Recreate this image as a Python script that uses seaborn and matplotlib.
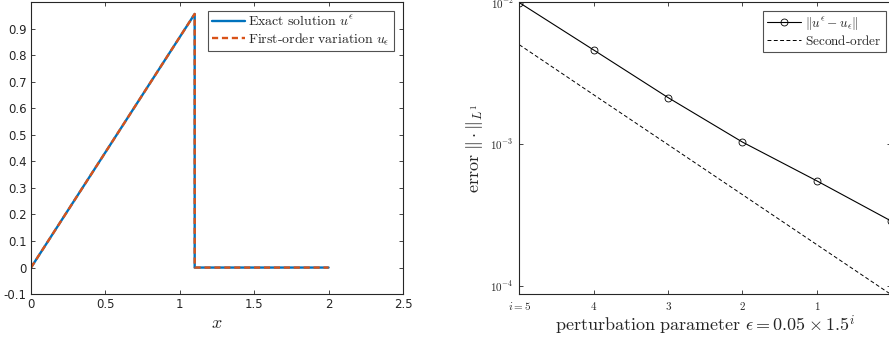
import numpy as np
import pandas as pd
import matplotlib
matplotlib.use("Agg")
import matplotlib.pyplot as plt
import seaborn as sns

# --- Datos: panel izquierdo (solución y variación de primer orden) ---
x_sol = [0.0, 1.1, 1.1, 2.0]
u_exact = [0.0, 0.955, 0.0, 0.0]
u_first = [0.0, 0.955, 0.0, 0.0]

# --- Datos: panel derecho (error vs. parámetro de perturbación) ---
i_vals = [5, 4, 3, 2, 1, 0]
err_l1 = [9.9e-3, 4.59e-3, 2.12e-3, 1.03e-3, 5.49e-4, 2.86e-4]
second_order = [5.0e-3, 2.22e-3, 9.88e-4, 4.39e-4, 1.95e-4, 8.67e-5]

left_xticks = [0, 0.5, 1, 1.5, 2, 2.5]
left_yticks = [-0.1, 0, 0.1, 0.2, 0.3, 0.4, 0.5, 0.6, 0.7, 0.8, 0.9]
right_xticks = [5, 4, 3, 2, 1, 0]
right_xlabels = [r"$i=5$", "$4$", "$3$", "$2$", "$1$", ""]

BLUE = "#0072BD"
ORANGE = "#D95319"
AX_COL = "#262626"

sns.set_style("ticks")
plt.rcParams["mathtext.fontset"] = "cm"
plt.rcParams["font.family"] = ["DejaVu Sans"]
plt.rcParams["axes.edgecolor"] = AX_COL
plt.rcParams["xtick.color"] = AX_COL
plt.rcParams["ytick.color"] = AX_COL

fig = plt.figure(figsize=(8.89, 3.41), dpi=100)
ax1 = fig.add_axes([0.0349, 0.1375, 0.4184, 0.8567])
ax2 = fig.add_axes([0.5841, 0.1375, 0.4185, 0.8567])

# --- Panel izquierdo ---
sns.lineplot(x=x_sol, y=u_exact, ax=ax1, color=BLUE, lw=1.7, sort=False,
             estimator=None, label=r"$\mathrm{Exact\ solution}\ u^\epsilon$")
sns.lineplot(x=x_sol, y=u_first, ax=ax1, color=ORANGE, lw=1.7, sort=False,
             estimator=None, linestyle=(0, (2.6, 1.6)),
             label=r"$\mathrm{First\text{-}order\ variation}\ u_\epsilon$")
ax1.set_xlim(0, 2.5)
ax1.set_ylim(-0.1, 1.0)
ax1.set_xticks(left_xticks)
ax1.set_xticklabels([f"{t:g}" for t in left_xticks])
ax1.set_yticks(left_yticks)
ax1.set_yticklabels([f"{t:g}" for t in left_yticks])
ax1.set_xlabel("$x$", fontsize=13, labelpad=2)
ax1.set_ylabel("")
ax1.tick_params(direction="in", top=True, right=True, labelsize=8.5,
                length=3, width=0.6, pad=3)
for s in ax1.spines.values():
    s.set_linewidth(0.8)
leg1 = ax1.legend(loc="upper right", bbox_to_anchor=(0.975, 0.97),
                  fontsize=10, frameon=True, fancybox=False, handlelength=2.4,
                  handletextpad=0.2, borderpad=0.3, labelspacing=0.15,
                  borderaxespad=0)
leg1.get_frame().set_edgecolor(AX_COL)
leg1.get_frame().set_linewidth(0.8)

# --- Panel derecho ---
sns.lineplot(x=i_vals, y=err_l1, ax=ax2, color="black", lw=0.8, sort=False,
             estimator=None, marker="o", markersize=5, mfc="none", mec="black",
             mew=0.6, label=r"$\|u^\epsilon - u_\epsilon\|$")
sns.lineplot(x=i_vals, y=second_order, ax=ax2, color="black", lw=0.7, sort=False,
             estimator=None, linestyle=(0, (4, 2.5)),
             label=r"$\mathrm{Second\text{-}order}$")
ax2.set_yscale("log")
ax2.set_xlim(5, 0)
ax2.set_ylim(10 ** -4.058, 1e-2)
ax2.set_xticks(right_xticks)
ax2.set_xticklabels(right_xlabels)
ax2.set_yticks([1e-4, 1e-3, 1e-2])
ax2.set_yticklabels([r"$10^{-4}$", r"$10^{-3}$", r"$10^{-2}$"])
ax2.minorticks_off()
ax2.tick_params(direction="in", top=True, right=True, labelsize=8,
                length=3, width=0.6, pad=4)
ax2.set_xlabel(r"$\mathrm{perturbation\ parameter}\ \epsilon = 0.05\times 1.5^i$",
               fontsize=13, labelpad=1)
ax2.set_ylabel(r"$\mathrm{error}\ \|\cdot\|_{L^1}$", fontsize=13, labelpad=4)
for s in ax2.spines.values():
    s.set_linewidth(0.8)
leg2 = ax2.legend(loc="upper right", bbox_to_anchor=(0.985, 0.97),
                  fontsize=9.5, frameon=True, fancybox=False, handlelength=2.6,
                  handletextpad=0.3, borderpad=0.3, labelspacing=0.15,
                  borderaxespad=0)
leg2.get_frame().set_edgecolor(AX_COL)
leg2.get_frame().set_linewidth(0.8)

fig.savefig("out.png", dpi=100)
